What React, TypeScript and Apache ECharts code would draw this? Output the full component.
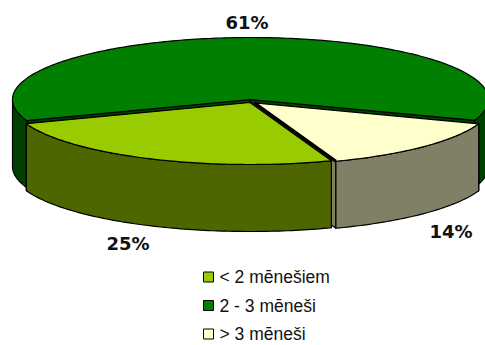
import React, { useEffect, useRef } from "react";
import * as echarts from "echarts";

const categories = ["< 2 mēnešiem", "2 - 3 mēneši", "> 3 mēneši"];
const shares = [25, 61, 14];
const topColors = ["#99CC00", "#007F00", "#FFFFCC"];
const wallColors = ["#4D6600", "#004000", "#808066"];
// Offset of each slice's tip from the pie's nominal centre, and where its label sits.
const sliceCentres = [[250, 102.5], [250.5, 99.5], [254.5, 103]];
const labelCentres = [[128, 243], [247, 22], [451, 231]];

const RX = 238;
const RY = 62;
const DEPTH = 67;
const START_ANGLE = 290; // maths degrees, slices run clockwise

function pt(cx: number, cy: number, deg: number): number[] {
  const r = (deg * Math.PI) / 180;
  return [cx + RX * Math.cos(r), cy - RY * Math.sin(r)];
}

function arcPoints(cx: number, cy: number, from: number, to: number): number[][] {
  const out: number[][] = [];
  const n = Math.max(2, Math.ceil(Math.abs(from - to)));
  for (let i = 0; i <= n; i++) out.push(pt(cx, cy, from + ((to - from) * i) / n));
  return out;
}

const total = shares.reduce((a, b) => a + b, 0);

function sliceAngles(index: number): number[] {
  let before = 0;
  for (let i = 0; i < index; i++) before += shares[i];
  const a0 = START_ANGLE - (before / total) * 360;
  return [a0, a0 - (shares[index] / total) * 360];
}

function extrude(upper: number[][]): number[][] {
  return upper.concat(upper.map((p) => [p[0], p[1] + DEPTH]).reverse());
}

function renderSlice(index: number) {
  return (_params: any, api: any) => {
    const value = api.value(0);
    const [cx, cy] = sliceCentres[index];
    const [a0, a1] = sliceAngles(index);
    const children: any[] = [];
    const line = { stroke: "#000", lineWidth: 1.2, lineJoin: "round" };
    // Radial cut faces, painted first; only the ones facing the viewer stay uncovered.
    for (const a of [a0, a1]) {
      children.push({
        type: "polygon",
        shape: { points: extrude([[cx, cy], pt(cx, cy, a)]) },
        style: { fill: wallColors[index], ...line },
      });
    }
    // Front-facing wall pieces: the parts of the arc in the lower half of the ellipse.
    const fronts = [[360, 180], [0, -180]];
    for (const [hi, lo] of fronts) {
      const from = Math.min(a0, hi);
      const to = Math.max(a1, lo);
      if (from <= to) continue;
      children.push({
        type: "polygon",
        shape: { points: extrude(arcPoints(cx, cy, from, to)) },
        style: { fill: wallColors[index], ...line },
      });
    }
    children.push({
      type: "polygon",
      shape: { points: [[cx, cy]].concat(arcPoints(cx, cy, a0, a1)) },
      style: { fill: topColors[index], ...line },
    });
    if (index === 2) {
      // The last slice's closing edge reads as one heavy black rule against its neighbour.
      const [ex, ey] = pt(cx, cy, a1);
      children.push({
        type: "line",
        shape: { x1: cx, y1: cy, x2: ex, y2: ey },
        style: { stroke: "#000", lineWidth: 3.2 },
      });
    }
    children.push({
      type: "text",
      x: labelCentres[index][0],
      y: labelCentres[index][1],
      style: {
        text: value + "%",
        fill: "#111",
        font: "bold 18px 'DejaVu Sans'",
        align: "center",
        verticalAlign: "middle",
      },
    });
    return { type: "group", children };
  };
}

const drawOrder = [1, 2, 0];

export default function App() {
  const ref = useRef<HTMLDivElement>(null);
  useEffect(() => {
    const chart = echarts.init(ref.current!, undefined, { renderer: "svg" });
    chart.setOption({
      animation: false,
      backgroundColor: "#fff",
      legend: {
        orient: "vertical",
        left: 203,
        top: 268,
        height: 100,
        padding: 0,
        data: categories,
        icon: "rect",
        itemWidth: 10,
        itemHeight: 10,
        itemGap: 10.5,
        selectedMode: false,
        itemStyle: { borderColor: "#000", borderWidth: 1 },
        textStyle: { fontFamily: "'Liberation Sans'", fontSize: 17.5, color: "#111", padding: [0, 0, 0, 1] },
      },
      series: drawOrder.map((i) => ({
        type: "custom",
        name: categories[i],
        coordinateSystem: "none",
        itemStyle: { color: topColors[i] },
        data: [[shares[i]]],
        renderItem: renderSlice(i),
      })),
    });
    return () => chart.dispose();
  }, []);
  return <div ref={ref} style={{ position: "absolute", left: 0, top: 0, width: 485, height: 345 }} />;
}
